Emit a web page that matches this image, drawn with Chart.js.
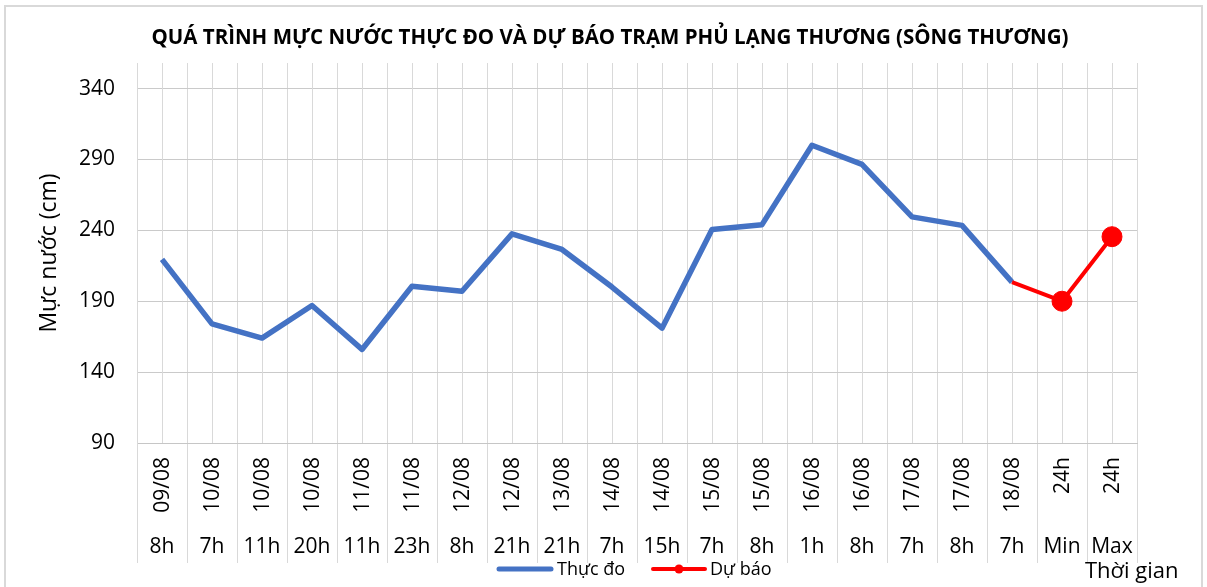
<!DOCTYPE html>
<html>
<head>
<meta charset="utf-8">
<script src="https://cdn.jsdelivr.net/npm/chart.js@4.4.1/dist/chart.umd.min.js"></script>
<style>
  html, body { margin: 0; padding: 0; background: #fff; }
  #wrap { width: 1207px; height: 587px; }
</style>
</head>
<body>
<div id="wrap"><canvas id="lineChart" width="1207" height="587"></canvas></div>
<script>
var chartTitle = 'QUÁ TRÌNH MỰC NƯỚC THỰC ĐO VÀ DỰ BÁO TRẠM PHỦ LẠNG THƯƠNG (SÔNG THƯƠNG)';
var dateLabels = ['09/08', '10/08', '10/08', '10/08', '11/08', '11/08', '12/08', '12/08', '13/08', '14/08',
    '14/08', '15/08', '15/08', '16/08', '16/08', '17/08', '17/08', '18/08', '24h', '24h'];
var hourLabels = ['8h', '7h', '11h', '20h', '11h', '23h', '8h', '21h', '21h', '7h',
    '15h', '7h', '8h', '1h', '8h', '7h', '8h', '7h', 'Min', 'Max'];
var measured = [219.5, 174, 164, 187, 156, 200.5, 197, 237.5, 226.5, 200,
    171, 240.5, 244, 300, 286.5, 249.5, 243.5, 203.5, null, null];
var forecast = [null, null, null, null, null, null, null, null, null, null,
    null, null, null, null, null, null, null, 203.5, 190, 235.5];
var yTicks = [90, 140, 190, 240, 290, 340];
var yMax = 358;

var FONT = "'Open Sans', 'Noto Sans', sans-serif";
var BLUE = '#4472C4';
var RED = '#FF0000';

// labels, legend, title and frame drawn by hand (Excel-style two-level axis)
var excelDecor = {
    id: 'excelDecor',
    beforeDraw: function (chart) {
        var c = chart.ctx;
        c.save();
        c.fillStyle = '#fff';
        c.fillRect(0, 0, chart.width, chart.height);
        c.strokeStyle = '#d9d9d9';
        c.lineWidth = 2;
        c.strokeRect(5, 6, chart.width - 10, chart.height + 20);
        c.restore();
    },
    beforeDatasetsDraw: function (chart) {
        var c = chart.ctx, x = chart.scales.x, a = chart.chartArea;
        c.save();
        c.strokeStyle = '#d9d9d9';
        c.lineWidth = 1;
        for (var i = 0; i < dateLabels.length; i++) {
            var px = Math.round(x.getPixelForValue(i)) + 0.5;
            c.beginPath();
            c.moveTo(px, a.top);
            c.lineTo(px, a.bottom);
            c.stroke();
        }
        c.restore();
    },
    afterDraw: function (chart) {
        var c = chart.ctx, x = chart.scales.x, a = chart.chartArea;
        c.save();
        c.fillStyle = '#000';

        // title
        c.font = 'bold 20.5px ' + FONT;
        c.textAlign = 'center';
        c.textBaseline = 'middle';
        c.fillText(chartTitle, 610, 38);

        // category labels
        c.font = '21px ' + FONT;
        for (var i = 0; i < dateLabels.length; i++) {
            var px = x.getPixelForValue(i);
            c.save();
            c.translate(px + 1, a.bottom + 14);
            c.rotate(-Math.PI / 2);
            c.textAlign = 'right';
            c.textBaseline = 'middle';
            c.fillText(dateLabels[i], 0, 0);
            c.restore();
            c.textAlign = 'center';
            c.textBaseline = 'middle';
            c.fillText(hourLabels[i], px, 547);
        }

        // legend
        var ly = 569;
        c.lineCap = 'round';
        c.strokeStyle = BLUE;
        c.lineWidth = 5;
        c.beginPath(); c.moveTo(499, ly); c.lineTo(551, ly); c.stroke();
        c.strokeStyle = RED;
        c.lineWidth = 4;
        c.beginPath(); c.moveTo(653, ly); c.lineTo(705, ly); c.stroke();
        c.fillStyle = RED;
        c.beginPath(); c.arc(679, ly, 4.5, 0, Math.PI * 2); c.fill();
        c.fillStyle = '#000';
        c.font = '18px ' + FONT;
        c.textAlign = 'left';
        c.fillText(chart.data.datasets[0].label, 557, ly + 1);
        c.fillText(chart.data.datasets[1].label, 710, ly + 1);

        // x axis title
        c.font = '22px ' + FONT;
        c.fillText('Thời gian', 1085, 572);
        c.restore();
    }
};

var ctx = document.getElementById('lineChart').getContext('2d');
var lineChart = new Chart(ctx, {
    type: 'line',
    data: {
        labels: dateLabels,
        datasets: [{
            label: 'Thực đo',
            data: measured,
            borderColor: BLUE,
            backgroundColor: BLUE,
            borderWidth: 5.5,
            borderJoinStyle: 'round',
            pointRadius: 0,
            fill: false,
            tension: 0,
            order: 1
        },
        {
            label: 'Dự báo',
            data: forecast,
            borderColor: RED,
            backgroundColor: RED,
            borderWidth: 4,
            borderJoinStyle: 'round',
            pointRadius: function (c) { return c.dataIndex >= dateLabels.length - 2 ? 10 : 0; },
            pointBackgroundColor: RED,
            pointBorderColor: RED,
            pointBorderWidth: 1,
            fill: false,
            tension: 0,
            order: 0
        }
        ]
    },
    plugins: [excelDecor],
    options: {
        responsive: false,
        animation: false,
        layout: { padding: { left: 10, top: 63, right: 70, bottom: 24 } },
        plugins: {
            legend: { display: false },
            title: { display: false },
            tooltip: { enabled: false }
        },
        scales: {
            x: {
                type: 'category',
                offset: true,
                grid: { offset: true, color: '#d9d9d9', tickLength: 120, tickColor: '#d9d9d9' },
                border: { color: '#c6c6c6' },
                ticks: { display: false },
                afterFit: function (s) { s.height = 120; }
            },
            y: {
                min: yTicks[0],
                max: yMax,
                afterBuildTicks: function (s) {
                    s.ticks = yTicks.map(function (v) { return { value: v }; });
                },
                grid: { color: '#cacaca', drawTicks: false },
                border: { color: '#d9d9d9' },
                ticks: { padding: 22, color: '#000', font: { family: FONT, size: 21 } },
                title: {
                    display: true,
                    text: 'Mực nước (cm)',
                    color: '#000',
                    font: { family: FONT, size: 23 },
                    padding: { top: 26, bottom: 0 }
                },
                afterFit: function (s) { s.width = 127; }
            }
        }
    }
});
</script>
</body>
</html>
